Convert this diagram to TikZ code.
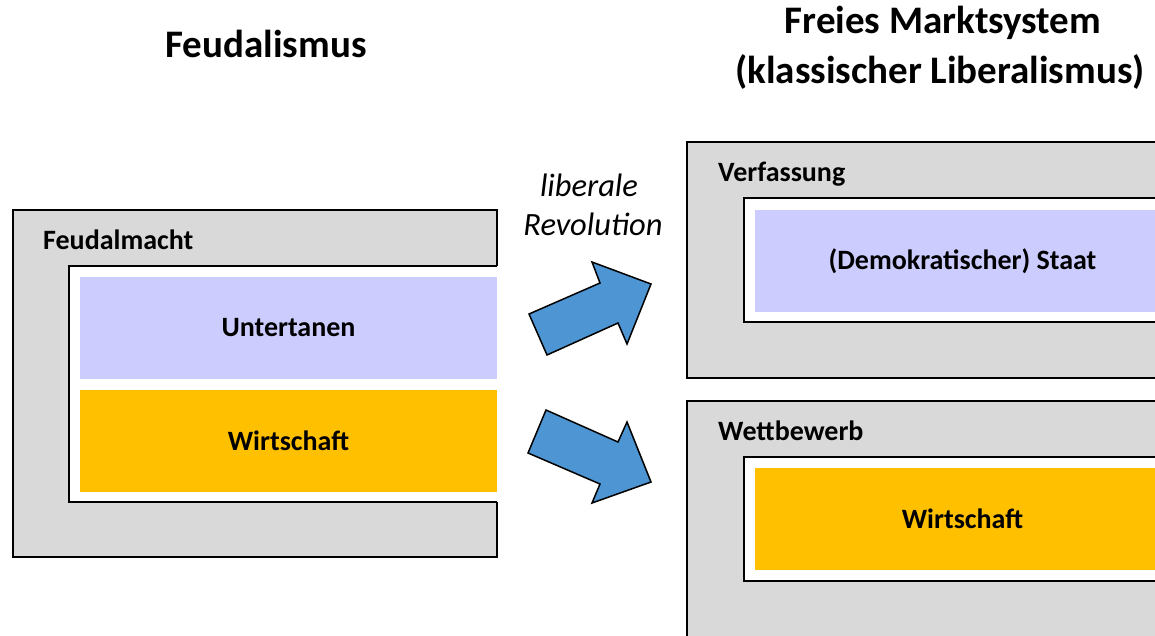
\documentclass[tikz,border=0pt]{standalone}
\usepackage{fontspec}
\setmainfont{Carlito}
\usepackage{tikz}
\definecolor{boxgray}{HTML}{D9D9D9}
\definecolor{lila}{HTML}{CCCCFF}
\definecolor{gold}{HTML}{FFC000}
\definecolor{pfeil}{HTML}{4E95D3}
\tikzset{band/.style={minimum height=102pt, inner sep=0pt,
                      font=\fontsize{28}{34}\selectfont\bfseries},
hdr/.style={anchor=base, inner sep=0pt, font=\fontsize{39}{48}\selectfont\bfseries},
boxlabel/.style={anchor=base west, inner sep=0pt, font=\fontsize{28}{34}\selectfont\bfseries},
revtext/.style={anchor=base, inner sep=0pt, font=\fontsize{32.5}{39}\selectfont\itshape},
frame/.style={line width=1.5pt},
blockarrow/.style={fill=pfeil, draw=black, line width=1.5pt, line join=miter}
}

\begin{document}
\begin{tikzpicture}[x=1pt, y=-1pt]
          \clip (0,0) rectangle (1155,635);
          \fill[white] (0,0) rectangle (1155,635);

          % Ueberschriften
          \node[hdr] (feud)   at (266,57) {Feudalismus};
          \node[hdr] (markt)  at (943,33) {Freies Marktsystem};
          \node[hdr] (klass)  at (940,83) {(klassischer Liberalismus)};

          % Feudalismus
          \fill[boxgray] (13,210) rectangle (497,557);
          \fill[white]   (69,266) rectangle (497,502);
          \draw[frame] (497,266) -- (497,210) -- (13,210) -- (13,557) -- (497,557) -- (497,502);
          \draw[frame] (497,266) -- (69,266) -- (69,502) -- (497,502);
          \node[boxlabel] (macht) at (43,249) {Feudalmacht};
          \node[band, fill=lila, minimum width=417pt] (unter) at (288.5,327.5) {Untertanen};
          \node[band, fill=gold, minimum width=417pt] (wirt1) at (288.5,440.5) {Wirtschaft};

          % Revolution
          \node[revtext] (lib) at (589,196) {liberale};
          \node[revtext] (rev) at (593,235) {Revolution};
          \filldraw[blockarrow] (547,355) -- (529,314) -- (600,283) -- (592,262)
                                -- (651,284) -- (627,344) -- (618,323) -- cycle;
          \filldraw[blockarrow] (546,410) -- (528,453) -- (600,484) -- (592,503)
                                -- (651,482) -- (627,422) -- (618,442) -- cycle;

          % Freies Marktsystem
          \filldraw[fill=boxgray, frame] (687,142) rectangle (1180,378);
          \filldraw[fill=white, frame]   (744,198) rectangle (1180,322);
          \node[boxlabel] (verf) at (718,181) {Verfassung};
          \node[band, fill=lila, minimum width=415pt] (staat) at (962.5,261) {(Demokratischer) Staat};

          \filldraw[fill=boxgray, frame] (687,401) rectangle (1180,660);
          \filldraw[fill=white, frame]   (744,457) rectangle (1180,581);
          \node[boxlabel] (wett) at (718,440) {Wettbewerb};
          \node[band, fill=gold, minimum width=415pt] (wirt2) at (962.5,519) {Wirtschaft};
        \end{tikzpicture}
\end{document}
